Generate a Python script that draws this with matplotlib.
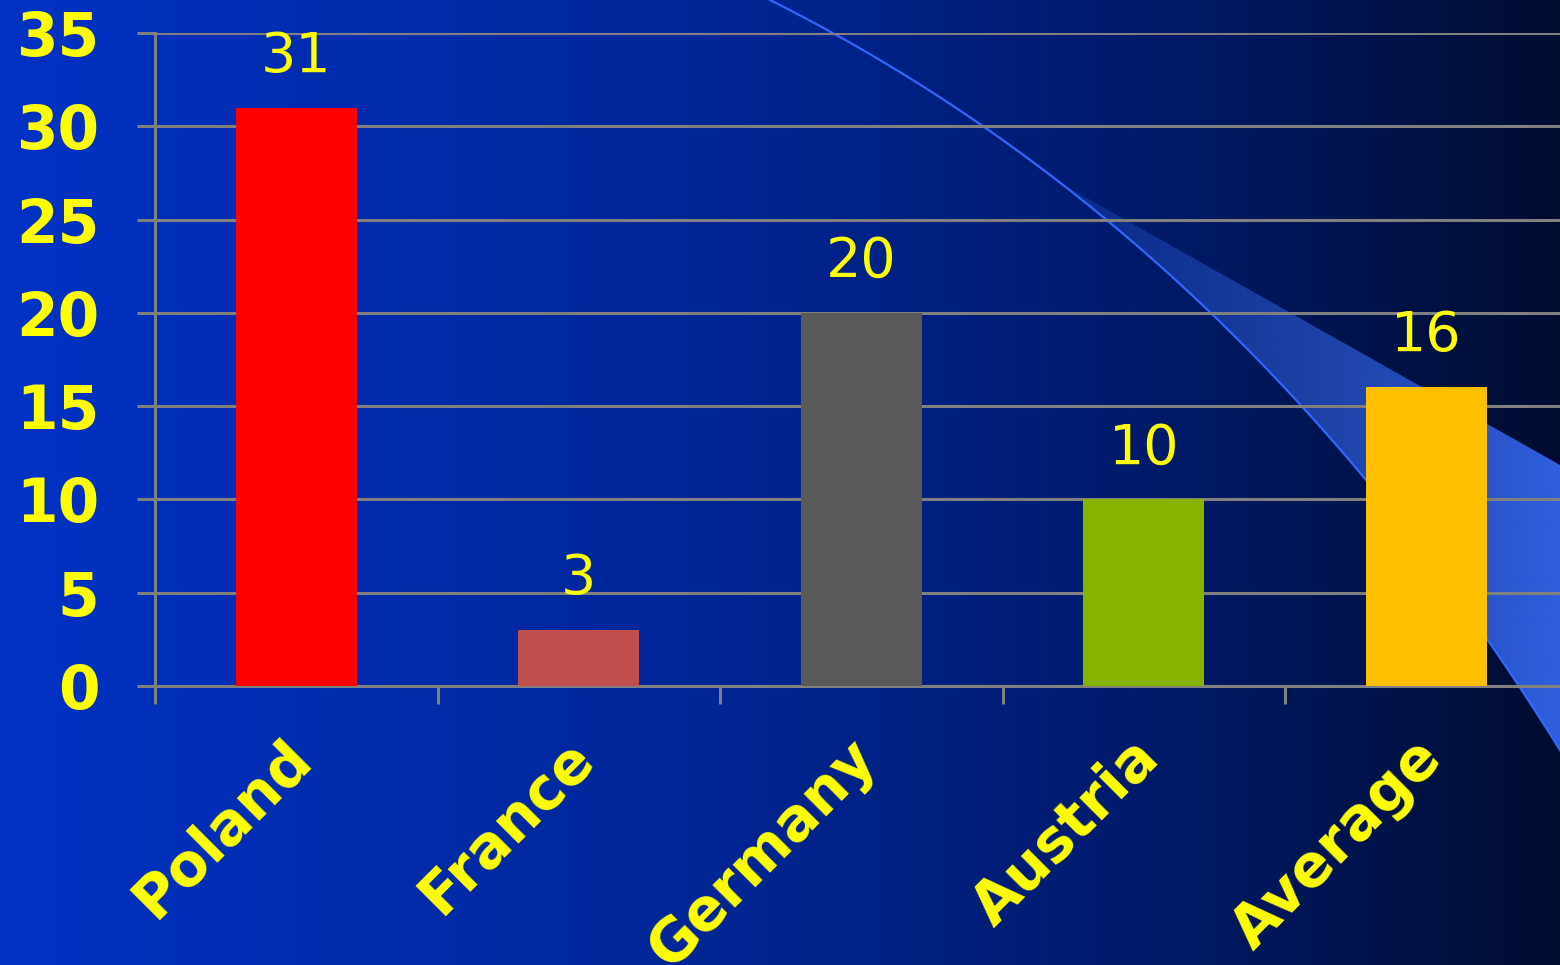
import numpy as np
import matplotlib
matplotlib.use("Agg")
import matplotlib.pyplot as plt
from matplotlib.patches import Polygon
from matplotlib.transforms import ScaledTranslation

# Data
countries = ["Poland", "France", "Germany", "Austria", "Average"]
values = [31, 3, 20, 10, 16]
bar_colors = ["#FF0000", "#C0504D", "#595959", "#86B300", "#FFC000"]
y_ticks = [0, 5, 10, 15, 20, 25, 30, 35]

W, H = 1560, 965
fig = plt.figure(figsize=(W / 100, H / 100), dpi=100)

# Background: horizontal blue gradient with a decorative swoosh
bg = fig.add_axes([0, 0, 1, 1], zorder=0)
bg.set_xlim(0, W)
bg.set_ylim(H, 0)
bg.axis("off")

stops = np.array([0.0, 0.45, 0.75, 1.0])
cols = np.array([[0, 50, 196], [0, 38, 150], [0, 26, 104], [0, 12, 48]]) / 255.0
xs = np.linspace(0, 1, 600)
grad = np.stack([np.interp(xs, stops, cols[:, i]) for i in range(3)], axis=-1)
bg.imshow(grad[None, :, :], extent=[0, W, H, 0], aspect="auto", zorder=0)

# Swoosh curve (quadratic Bezier) and translucent band above it
p0, p1, p2 = np.array([770, 0]), np.array([1240, 235]), np.array([1560, 750])
t = np.linspace(0, 1, 200)[:, None]
curve = (1 - t) ** 2 * p0 + 2 * (1 - t) * t * p1 + t ** 2 * p2
start = np.argmin(np.abs(curve[:, 0] - 1060))
band = np.vstack([[curve[start]], [[1560, 465]], curve[::-1][: len(curve) - start]])
band_patch = Polygon(band, closed=True, facecolor="none", edgecolor="none")
bg.add_patch(band_patch)
band_alpha = np.interp(np.linspace(0, 1, 300), [0, 0.45, 1], [0.2, 0.55, 1.0])
band_img = np.zeros((1, 300, 4))
band_img[..., 0] = 48 / 255
band_img[..., 1] = 96 / 255
band_img[..., 2] = 224 / 255
band_img[..., 3] = band_alpha
im = bg.imshow(band_img, extent=[1060, 1560, H, 0], aspect="auto", zorder=1)
im.set_clip_path(band_patch)
bg.plot(curve[:, 0], curve[:, 1], color="#3366FF", lw=1.6, zorder=2)

# Main chart
left, right = 155 / W, 1567.5 / W
bottom, top = 1 - 686 / H, 1 - 33 / H
ax = fig.add_axes([left, bottom, right - left, top - bottom], zorder=1)
ax.patch.set_alpha(0)

x = np.arange(len(countries))
ax.bar(x, values, width=0.43, color=bar_colors, zorder=3)
ax.set_xlim(-0.5, len(countries) - 0.5)
ax.set_ylim(0, 35)

grid_c = "#808080"
ax.set_yticks(y_ticks)
ax.yaxis.grid(True, color=grid_c, lw=2.2, zorder=1)
ax.set_axisbelow(True)
for s in ["top", "right"]:
    ax.spines[s].set_visible(False)
for s in ["left", "bottom"]:
    ax.spines[s].set_color(grid_c)
    ax.spines[s].set_linewidth(2.2)

ax.tick_params(axis="y", colors=grid_c, length=13, width=2.2, pad=27,
               labelcolor="#FFFF00", labelsize=43)
for lbl in ax.get_yticklabels():
    lbl.set_fontweight("bold")

# Category boundary ticks (major) and category names (minor)
ax.set_xticks(np.arange(-0.5, len(countries), 1.0))
ax.set_xticklabels([])
ax.tick_params(axis="x", which="major", colors=grid_c, length=13, width=2.2)
ax.set_xticks(x, minor=True)
ax.set_xticklabels(countries, minor=True, rotation=45, ha="right",
                   rotation_mode="anchor", fontsize=42, fontweight="bold",
                   color="#FFFF00")
ax.tick_params(axis="x", which="minor", length=0, pad=31)
shift = ScaledTranslation(-14 / 100, 0, fig.dpi_scale_trans)
for lbl in ax.get_xticklabels(minor=True):
    lbl.set_transform(lbl.get_transform() + shift)

for xi, v in zip(x, values):
    ax.annotate(str(v), (xi, v), xytext=(0, 26), textcoords="offset points",
                ha="center", va="baseline", color="#FFFF00", fontsize=40)

fig.savefig("out.png", dpi=100)
